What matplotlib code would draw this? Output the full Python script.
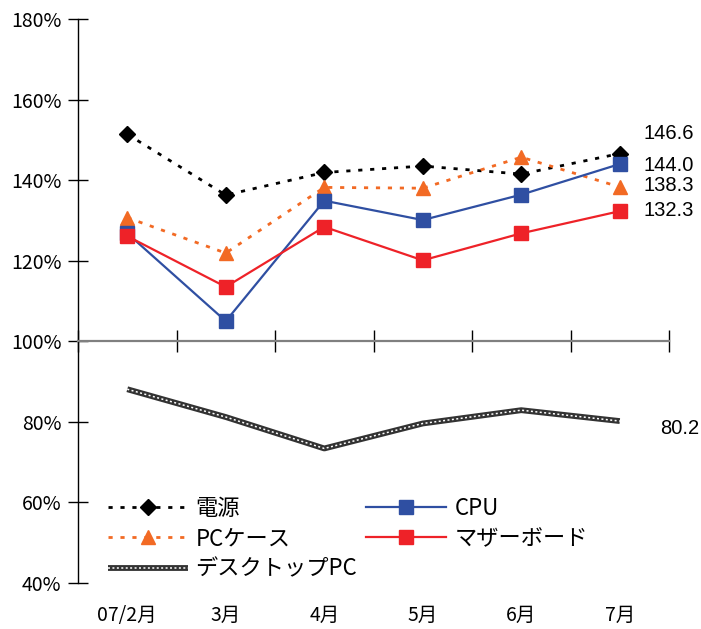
import numpy as np
import matplotlib
matplotlib.use("Agg")
import matplotlib.pyplot as plt
from matplotlib.ticker import FuncFormatter
from matplotlib.transforms import blended_transform_factory
from matplotlib.legend_handler import HandlerTuple

plt.rcParams['font.family'] = ['Noto Sans CJK JP', 'DejaVu Sans']

months = ['07/2月', '3月', '4月', '5月', '6月', '7月']

# index values (%) per part category
psu = [151.4, 136.3, 141.9, 143.5, 141.5, 146.6]
pc_case = [130.7, 121.9, 138.2, 138.0, 145.7, 138.3]
cpu = [126.8, 105.0, 134.9, 130.1, 136.4, 144.0]
motherboard = [126.1, 113.5, 128.4, 120.1, 126.8, 132.3]
desktop = [88.1, 81.2, 73.4, 79.6, 82.9, 80.2]

x = np.arange(len(months))

fig = plt.figure(figsize=(7.01, 6.29), dpi=100)
ax = fig.add_axes([0.1113, 0.0731, 0.8431, 0.8967])

l_psu, = ax.plot(x, psu, color='black', lw=2, dashes=(1.5, 2.8),
                 marker='D', ms=8, mec='black', mfc='black', label='電源')
l_case, = ax.plot(x, pc_case, color='#F26A24', lw=2, dashes=(1.5, 2.8),
                  marker='^', ms=10.5, mec='#F26A24', mfc='#F26A24', label='PCケース')
l_cpu, = ax.plot(x, cpu, color='#2F4FA2', lw=1.6,
                 marker='s', ms=9.5, mec='#2F4FA2', mfc='#2F4FA2', label='CPU')
l_mb, = ax.plot(x, motherboard, color='#EE2228', lw=1.6,
                marker='s', ms=9.5, mec='#EE2228', mfc='#EE2228', label='マザーボード')
# chain-like line: thick dark stroke with small white dashes on top
l_dt_a, = ax.plot(x, desktop, color='#333333', lw=4.2, solid_capstyle='butt')
l_dt_b, = ax.plot(x, desktop, color='white', lw=1.1, dashes=(1.3, 1.6))

# latest values next to the last points
label_offsets = {
    'psu': (24, 20), 'cpu': (24, -1), 'case': (24, 1), 'mb': (24, 1), 'dt': (40, -7)
}
for key, series in [('psu', psu), ('cpu', cpu), ('case', pc_case),
                    ('mb', motherboard), ('dt', desktop)]:
    ax.annotate(f'{series[-1]:.1f}', xy=(x[-1], series[-1]),
                xytext=label_offsets[key], textcoords='offset pixels',
                ha='left', va='center', fontsize=14.5, family='Liberation Sans')

ax.set_xlim(-0.5, len(months) - 0.5)
ax.set_ylim(40, 180)
ax.set_yticks(np.arange(40, 181, 20))
ax.yaxis.set_major_formatter(FuncFormatter(lambda v, p: f'{v:.0f}%'))
ax.tick_params(axis='y', direction='inout', length=14, width=1, labelsize=14, pad=5)

ax.set_xticks(np.arange(-0.5, len(months)))
ax.set_xticklabels([])
ax.tick_params(axis='x', direction='inout', length=16, width=1)

for side in ['top', 'right']:
    ax.spines[side].set_visible(False)
ax.spines['bottom'].set_position(('data', 100))
ax.spines['bottom'].set_color('#808080')
ax.spines['bottom'].set_linewidth(1.6)
ax.spines['left'].set_linewidth(1)

trans = blended_transform_factory(ax.transData, ax.transAxes)
for i, m in enumerate(months):
    ax.text(i, -0.057, m, transform=trans, ha='center', va='center', fontsize=14)

ax.legend([l_psu, l_case, (l_dt_a, l_dt_b), l_cpu, l_mb],
          ['電源', 'PCケース', 'デスクトップPC', 'CPU', 'マザーボード'],
          handler_map={tuple: HandlerTuple(ndivide=1)},
          ncol=2, frameon=False, fontsize=16, loc='lower left',
          bbox_to_anchor=(0.02, -0.027), handlelength=3.6, handletextpad=0.36,
          columnspacing=0.4, labelspacing=0.33, borderpad=0.3)

fig.savefig('out.png', dpi=100)
